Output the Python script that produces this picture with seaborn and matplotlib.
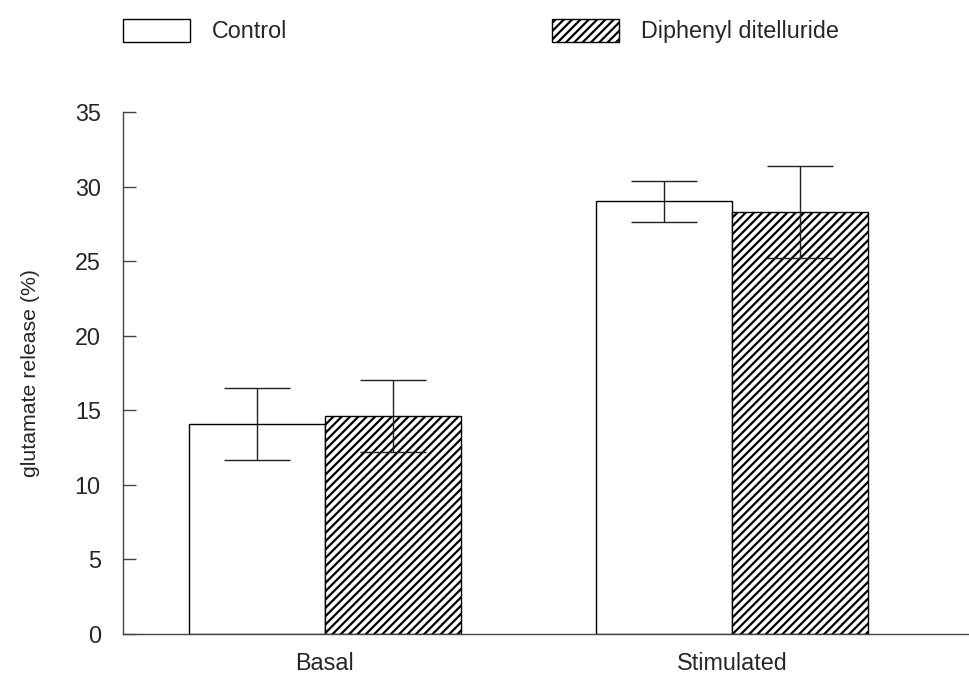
import matplotlib
matplotlib.use("Agg")
import matplotlib.pyplot as plt
import seaborn as sns
import pandas as pd
from matplotlib.patches import Patch

conditions = ["Basal", "Stimulated"]
groups = ["Control", "Diphenyl ditelluride"]
control_mean = [14.1, 29.0]
control_err = [2.4, 1.4]
diphenyl_mean = [14.6, 28.3]
diphenyl_err = [2.4, 3.1]
yticks = [0, 5, 10, 15, 20, 25, 30, 35]

sns.set_style("white")
plt.rcParams["font.family"] = ["Liberation Sans", "DejaVu Sans"]
plt.rcParams["hatch.linewidth"] = 1.6

df = pd.DataFrame({
    "condition": conditions * 2,
    "group": [groups[0]] * 2 + [groups[1]] * 2,
    "value": control_mean + diphenyl_mean,
    "err": control_err + diphenyl_err,
})

fig = plt.figure(figsize=(9.69, 6.79), dpi=100)
ax = fig.add_axes([123 / 969, 1 - 634 / 679, (969 - 123) / 969, (634 - 112) / 679])

sns.barplot(data=df, x="condition", y="value", hue="group", hue_order=groups,
            order=conditions, palette=["white", "white"], errorbar=None,
            width=0.666, edgecolor="black", linewidth=1.0, ax=ax, legend=False)

hatch_pat = "////"
hatches = {groups[0]: "", groups[1]: hatch_pat}
for cont, g in zip(ax.containers, groups):
    for bar in cont:
        bar.set_hatch(hatches[g])
        bar.set_edgecolor("black")

# error bars
for cont, g in zip(ax.containers, groups):
    sub = df[df["group"] == g].set_index("condition").loc[conditions]
    xs = [b.get_x() + b.get_width() / 2 for b in cont]
    ax.errorbar(xs, sub["value"], yerr=sub["err"], fmt="none", ecolor="#222222",
                elinewidth=1.0, capsize=24, capthick=1.0, zorder=5)

fs = 16.8
ax.set_ylim(0, 35)
ax.set_xlim(-0.496, 1.582)
ax.set_yticks(yticks)
ax.set_yticklabels([str(t) for t in yticks])
ax.set_xlabel("")
ax.set_ylabel("glutamate release (%)", fontsize=15.3, labelpad=25)
ax.tick_params(axis="y", direction="in", length=9, width=1, pad=16, labelsize=fs, color="#444444", left=True)
ax.tick_params(axis="x", length=0, pad=13, labelsize=fs)
for s in ["top", "right"]:
    ax.spines[s].set_visible(False)
for s in ["left", "bottom"]:
    ax.spines[s].set_color("#444444")
    ax.spines[s].set_linewidth(1.0)

# legend
h1 = Patch(facecolor="white", edgecolor="black", linewidth=1.0, label=groups[0])
h2 = Patch(facecolor="white", edgecolor="black", linewidth=1.0, hatch=hatch_pat, label=groups[1])
for h, x0 in [(h1, 123), (h2, 552)]:
    fig.legend(handles=[h], loc="upper left", bbox_to_anchor=(x0 / 969, 1 - 19 / 679),
               frameon=False, fontsize=fs, handlelength=2.85, handleheight=1.15,
               handletextpad=0.95, borderpad=0, borderaxespad=0)

fig.savefig("out.png", dpi=100)
